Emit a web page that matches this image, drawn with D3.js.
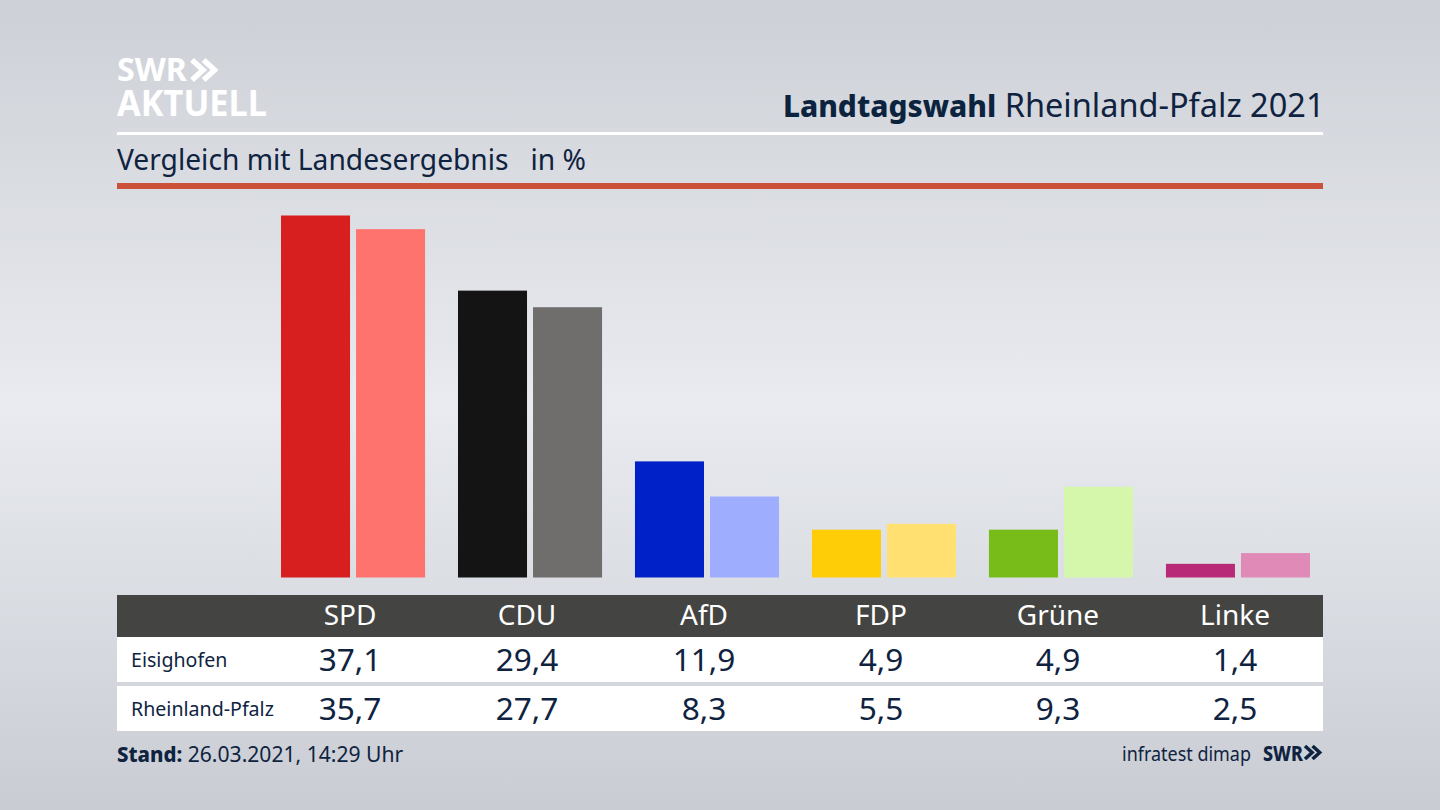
<!DOCTYPE html>
<html>
<head>
<meta charset="utf-8">
<script src="https://d3js.org/d3.v7.min.js"></script>
<style>
  html, body { margin: 0; padding: 0; background: #d5d8dd; }
  svg { display: block; }
  text { font-family: "Noto Sans", sans-serif; fill: #0f2340; }
</style>
</head>
<body>
<svg id="chart" width="1440" height="810"></svg>
<script>
// Chart data
const parties = ["SPD", "CDU", "AfD", "FDP", "Grüne", "Linke"];
const regions = ["Eisighofen", "Rheinland-Pfalz"];
const eisighofen = [37.1, 29.4, 11.9, 4.9, 4.9, 1.4];
const rheinlandPfalz = [35.7, 27.7, 8.3, 5.5, 9.3, 2.5];
const darkColors = ["#d81f1f", "#141414", "#0020c8", "#ffcc08", "#78bc1a", "#b82a78"];
const lightColors = ["#ff736e", "#6f6e6c", "#9fadff", "#ffe070", "#d5f7ab", "#e08ab8"];

const svg = d3.select("#chart");
const fmt = d => d.toFixed(1).replace(".", ",");

// Background
const defs = svg.append("defs");
const grad = defs.append("linearGradient")
    .attr("id", "bg").attr("x1", 0).attr("y1", 0).attr("x2", 0).attr("y2", 1);
grad.append("stop").attr("offset", "0%").attr("stop-color", "#cdd0d6");
grad.append("stop").attr("offset", "50%").attr("stop-color", "#e9ebf0");
grad.append("stop").attr("offset", "100%").attr("stop-color", "#c9cdd3");
svg.append("rect").attr("width", 1440).attr("height", 810).attr("fill", "url(#bg)");

// Scales
const x = d3.scaleBand().domain(parties).range([281, 1310]).paddingInner(0.186);
const xInner = d3.scaleBand().domain(regions).range([0, x.bandwidth()]).paddingInner(0.08);
const y = d3.scaleLinear().domain([0, 37.1]).range([577.5, 215.5]);

// Bars
const groups = svg.selectAll(".party")
    .data(parties)
    .enter()
    .append("g")
    .attr("class", "party")
    .attr("transform", d => "translate(" + x(d) + ",0)");

groups.append("rect")
    .attr("x", xInner(regions[0]))
    .attr("y", (d, i) => y(eisighofen[i]))
    .attr("width", xInner.bandwidth())
    .attr("height", (d, i) => y(0) - y(eisighofen[i]))
    .attr("fill", (d, i) => darkColors[i]);

groups.append("rect")
    .attr("x", xInner(regions[1]))
    .attr("y", (d, i) => y(rheinlandPfalz[i]))
    .attr("width", xInner.bandwidth())
    .attr("height", (d, i) => y(0) - y(rheinlandPfalz[i]))
    .attr("fill", (d, i) => lightColors[i]);

// Header
const chevrons = (g, px, py, s, color) => {
    // double chevron of the SWR logo
    [0, 0.58].forEach(dx => {
        g.append("path")
            .attr("d", d3.line()([[dx * s, 0], [(dx + 0.55) * s, 0.5 * s], [dx * s, s]]))
            .attr("transform", "translate(" + px + "," + py + ")")
            .attr("fill", "none")
            .attr("stroke", color)
            .attr("stroke-width", s * 0.27);
    });
};

svg.append("text").attr("x", 117).attr("y", 81)
    .style("font-size", "33px").style("font-weight", 700).style("fill", "#fff")
    .attr("textLength", 70).attr("lengthAdjust", "spacingAndGlyphs").text("SWR");
chevrons(svg, 192, 60, 20, "#fff");
svg.append("text").attr("x", 117).attr("y", 116)
    .style("font-size", "36px").style("font-weight", 700).style("fill", "#fff")
    .attr("textLength", 150).attr("lengthAdjust", "spacingAndGlyphs").text("AKTUELL");

const title = svg.append("text").attr("x", 1324.5).attr("y", 117)
    .attr("text-anchor", "end");
title.append("tspan").style("font-size", "29.9px").style("font-weight", 800).style("fill", "#0c2340").text("Landtagswahl");
title.append("tspan").style("font-size", "32.5px").text(" Rheinland-Pfalz 2021");

svg.append("rect").attr("x", 117).attr("y", 132).attr("width", 1206).attr("height", 3).attr("fill", "#fff");
svg.append("text").attr("x", 117).attr("y", 170).style("font-size", "28.2px")
    .attr("xml:space", "preserve").text("Vergleich mit Landesergebnis   in %");
svg.append("rect").attr("x", 117).attr("y", 183).attr("width", 1206).attr("height", 6).attr("fill", "#cb5138");

// Table
const labelX = d => x(d) + x.bandwidth() / 2 - 3;

svg.append("rect").attr("x", 117).attr("y", 595).attr("width", 1206).attr("height", 42).attr("fill", "#444442");
svg.append("rect").attr("x", 117).attr("y", 637).attr("width", 1206).attr("height", 45).attr("fill", "#fff");
svg.append("rect").attr("x", 117).attr("y", 686).attr("width", 1206).attr("height", 45).attr("fill", "#fff");

svg.selectAll(".head")
    .data(parties)
    .enter()
    .append("text")
    .attr("class", "head")
    .attr("x", labelX)
    .attr("y", 625)
    .attr("text-anchor", "middle")
    .style("font-size", "28px")
    .style("fill", "#fff")
    .text(d => d);

[eisighofen, rheinlandPfalz].forEach((values, r) => {
    const baseline = [671, 720][r];
    svg.append("text").attr("x", 131).attr("y", baseline - 4)
        .style("font-size", "19.6px").text(regions[r]);
    svg.selectAll(".val" + r)
        .data(values)
        .enter()
        .append("text")
        .attr("class", "val" + r)
        .attr("x", (d, i) => labelX(parties[i]))
        .attr("y", baseline)
        .attr("text-anchor", "middle")
        .style("font-size", "31.6px")
        .text(fmt);
});

// Footer
const stand = svg.append("text").attr("x", 117).attr("y", 762);
stand.append("tspan").style("font-size", "20.4px").style("font-weight", 800).text("Stand:");
stand.append("tspan").style("font-size", "21.1px").text(" 26.03.2021, 14:29 Uhr");

svg.append("text").attr("x", 1122).attr("y", 761)
    .style("font-size", "19.5px")
    .attr("textLength", 129).attr("lengthAdjust", "spacingAndGlyphs").text("infratest dimap");
svg.append("text").attr("x", 1263).attr("y", 761)
    .style("font-size", "21px").style("font-weight", 800)
    .attr("textLength", 40).attr("lengthAdjust", "spacingAndGlyphs").text("SWR");
chevrons(svg, 1305, 746, 13, "#0f2340");
</script>
</body>
</html>
